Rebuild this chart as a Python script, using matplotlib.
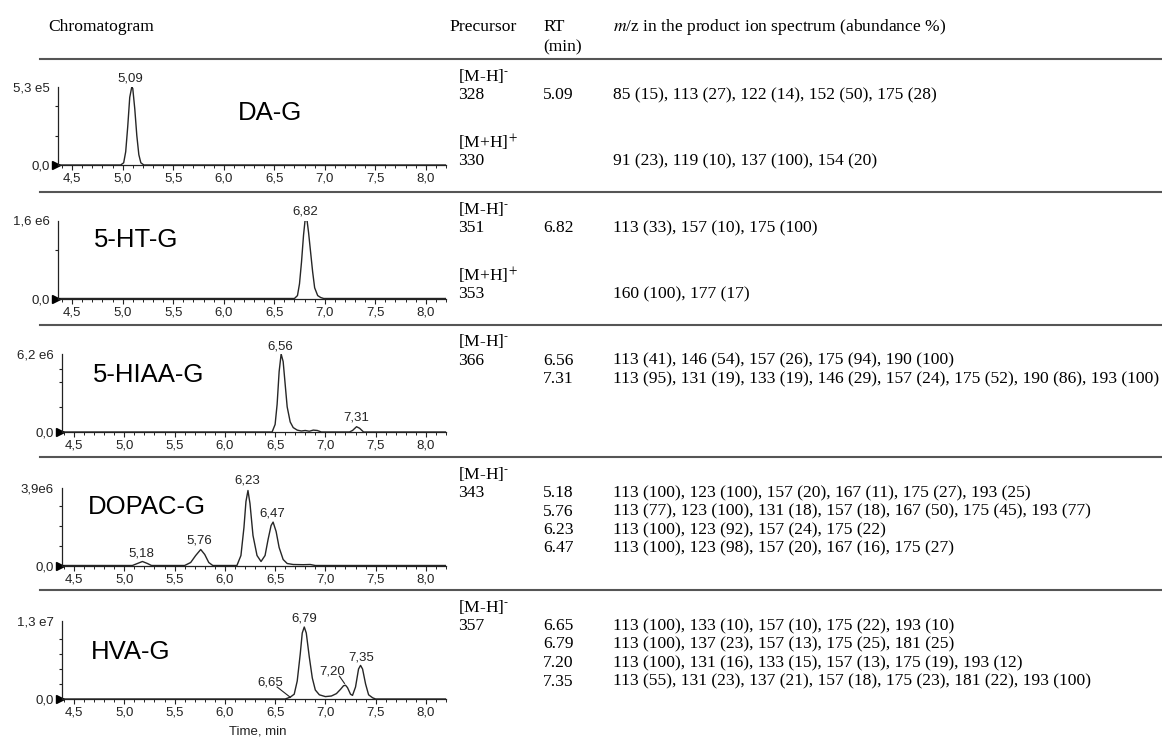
import numpy as np
import matplotlib
matplotlib.use("Agg")
import matplotlib.pyplot as plt
from matplotlib.lines import Line2D
from matplotlib.ticker import MultipleLocator, FixedLocator, FuncFormatter

plt.rcParams['mathtext.fontset'] = 'stix'
SERIF = 'Liberation Serif'
SANS = 'Liberation Sans'
W, H = 1162, 740

# ---- chromatogram traces (time in min, intensity in counts)
dag_t = [4.36, 4.98, 5.01, 5.03, 5.05, 5.07, 5.09, 5.10, 5.12, 5.14, 5.16, 5.18, 5.21, 8.2]
dag_i = np.array([0, 0, 0.15, 0.9, 2.6, 4.6, 5.3, 5.2, 3.8, 2.0, 0.7, 0.15, 0, 0]) * 1e5

ht_t = [4.36, 6.70, 6.73, 6.75, 6.77, 6.79, 6.805, 6.825, 6.84, 6.86, 6.88, 6.90, 6.93, 6.96, 6.99, 8.2]
ht_i = np.array([0, 0, 0.06, 0.3, 0.75, 1.3, 1.6, 1.6, 1.35, 0.95, 0.55, 0.22, 0.06, 0.02, 0, 0]) * 1e6

hiaa_t = [4.38, 6.47, 6.50, 6.52, 6.54, 6.56, 6.58, 6.60, 6.62, 6.65, 6.68, 6.72, 6.76, 6.80, 6.84,
          6.88, 6.92, 6.96, 7.24, 7.27, 7.31, 7.34, 7.38, 8.2]
hiaa_i = np.array([0, 0, 0.6, 2.2, 4.8, 6.2, 5.6, 3.8, 2.0, 0.8, 0.35, 0.15, 0.08, 0.12, 0.06,
                   0.15, 0.12, 0, 0, 0.12, 0.42, 0.3, 0, 0]) * 1e6

dopac_t = [4.38, 5.08, 5.13, 5.18, 5.23, 5.27, 5.60, 5.66, 5.71, 5.76, 5.80, 5.84, 5.88, 6.12, 6.16,
           6.19, 6.21, 6.23, 6.25, 6.28, 6.32, 6.36, 6.40, 6.43, 6.46, 6.48, 6.51, 6.54, 6.58, 6.62,
           6.68, 6.78, 6.85, 6.90, 8.2]
dopac_i = np.array([0, 0, 0.1, 0.2, 0.1, 0, 0, 0.15, 0.5, 0.8, 0.55, 0.15, 0, 0, 0.5,
                    1.9, 3.2, 3.75, 3.1, 1.5, 0.5, 0.2, 0.5, 1.3, 2.0, 2.17, 1.7, 0.9, 0.3, 0.1,
                    0.05, 0.04, 0.05, 0, 0]) * 1e6

hva_t = [4.38, 6.60, 6.65, 6.69, 6.72, 6.75, 6.77, 6.79, 6.81, 6.84, 6.87, 6.90, 6.94, 7.00, 7.06,
         7.11, 7.15, 7.18, 7.20, 7.22, 7.25, 7.27, 7.30, 7.33, 7.35, 7.37, 7.40, 7.43, 7.47, 7.50, 8.2]
hva_i = np.array([0, 0, 0.03, 0.08, 0.3, 0.75, 1.1, 1.2, 1.1, 0.7, 0.35, 0.15, 0.07, 0.04, 0.05,
                  0.09, 0.16, 0.22, 0.23, 0.19, 0.08, 0.06, 0.2, 0.5, 0.56, 0.5, 0.25, 0.07, 0.02, 0, 0]) * 1e7

# y scale maxima and their labels
names = ["DA-G", "5-HT-G", "5-HIAA-G", "DOPAC-G", "HVA-G"]
ymax = [5.3e5, 1.6e6, 6.2e6, 3.9e6, 1.3e7]
ymax_labels = ["5,3 e5", "1,6 e6", "6,2 e6", "3,9e6", "1,3 e7"]
yminor = [[2e5, 4e5], [1e6], [2e6, 4e6, 5e6], [1e6, 2e6, 3e6], [2.5e6, 5e6, 7.5e6, 1e7]]

# peak labels: (text, time, height)
peak_labels = [
    [("5,09", 5.08, 5.5e5)],
    [("6,82", 6.81, 1.66e6)],
    [("6,56", 6.555, 6.35e6), ("7,31", 7.31, 0.7e6)],
    [("5,18", 5.17, 0.3e6), ("5,76", 5.75, 0.95e6), ("6,23", 6.225, 3.95e6), ("6,47", 6.475, 2.3e6)],
    [("6,79", 6.79, 1.24e7), ("7,35", 7.36, 0.6e7)],
]
# labels with leader lines (HVA-G): text, text x, text y, line from, line to
leader_labels = [("6,65", 6.45, 0.27e7, (6.52, 0.2e7), (6.65, 0.03e7)),
                 ("7,20", 7.07, 0.46e7, (7.14, 0.38e7), (7.19, 0.26e7))]

# ---- table content
header = ["Chromatogram", "Precursor", "RT", "(min)", r"$m$/z in the product ion spectrum (abundance %)"]
MH = r"[M-H]$^{\text{-}}$"
MHP = r"[M+H]$^{+}$"
precursors = [
    [(MH, "328"), (MHP, "330")],
    [(MH, "351"), (MHP, "353")],
    [(MH, "366")],
    [(MH, "343")],
    [(MH, "357")],
]
rts = [["5.09"], ["6.82"], ["6.56", "7.31"], ["5.18", "5.76", "6.23", "6.47"],
       ["6.65", "6.79", "7.20", "7.35"]]
ions = [
    ["85 (15), 113 (27), 122 (14), 152 (50), 175 (28)",
     "91 (23), 119 (10), 137 (100), 154 (20)"],
    ["113 (33), 157 (10), 175 (100)",
     "160 (100), 177 (17)"],
    ["113 (41), 146 (54), 157 (26), 175 (94), 190 (100)",
     "113 (95), 131 (19), 133 (19), 146 (29), 157 (24), 175 (52), 190 (86), 193 (100)"],
    ["113 (100), 123 (100), 157 (20), 167 (11), 175 (27), 193 (25)",
     "113 (77), 123 (100), 131 (18), 157 (18), 167 (50), 175 (45), 193 (77)",
     "113 (100), 123 (92), 157 (24), 175 (22)",
     "113 (100), 123 (98), 157 (20), 167 (16), 175 (27)"],
    ["113 (100), 133 (10), 157 (10), 175 (22), 193 (10)",
     "113 (100), 137 (23), 157 (13), 175 (25), 181 (25)",
     "113 (100), 131 (16), 133 (15), 157 (13), 175 (19), 193 (12)",
     "113 (55), 131 (23), 137 (21), 157 (18), 175 (23), 181 (22), 193 (100)"],
]
traces = [(dag_t, dag_i), (ht_t, ht_i), (hiaa_t, hiaa_i), (dopac_t, dopac_i), (hva_t, hva_i)]

fig = plt.figure(figsize=(W / 100, H / 100), dpi=100)


def fx(px):
    return px / W


def fy(py):
    return 1 - py / H


TS = 12.6  # table font size
name_pos = [(270, 113), (136, 240), (149, 375), (147, 507), (131, 652)]
row_lines = [59, 192, 324.5, 457, 590]

for i in range(5):
    left = 58 if i < 2 else 62
    x0 = 4.36 if i < 2 else 4.38
    x1 = 8.2
    base = 165 + 133.5 * i
    hgt = 78
    ax = fig.add_axes([fx(left), fy(base), fx(446 - left), hgt / H])
    t, y = traces[i]
    ax.plot(t, y, color='#262626', lw=1.0)
    ax.set_xlim(x0, x1)
    ax.set_ylim(0, ymax[i])
    for s in ['top', 'right']:
        ax.spines[s].set_visible(False)
    for s in ['left', 'bottom']:
        ax.spines[s].set_color('#222')
        ax.spines[s].set_linewidth(0.9)
    ax.xaxis.set_major_locator(MultipleLocator(0.5))
    ax.xaxis.set_minor_locator(MultipleLocator(0.1))
    ax.xaxis.set_major_formatter(FuncFormatter(lambda v, p: f"{v:.1f}".replace('.', ',')))
    ax.tick_params(axis='x', which='major', direction='out', length=3.5, width=0.8,
                   labelsize=9.5, pad=2, colors='#222')
    ax.tick_params(axis='x', which='minor', direction='out', length=1.8, width=0.7, colors='#222')
    ax.set_yticks([0, ymax[i]], ["0,0", ymax_labels[i]])
    ax.yaxis.set_minor_locator(FixedLocator(yminor[i]))
    ax.tick_params(axis='y', which='major', length=0, pad=6, labelsize=9.5, colors='#222')
    ax.tick_params(axis='y', which='minor', direction='out', length=2.5, width=0.8, colors='#222')
    for lab in ax.get_xticklabels() + ax.get_yticklabels():
        lab.set_family(SANS)
    scale = (446 - left) / (x1 - x0)
    ax.plot([x0 - 2.5 / scale], [0], marker='>', ms=5.5, color='k', clip_on=False)
    for txt, px, py in peak_labels[i]:
        ax.text(px, py, txt, ha='center', va='bottom', fontsize=9.5, family=SANS, color='#222')
    if i == 4:
        for txt, px, py, p0, p1 in leader_labels:
            ax.text(px, py, txt, ha='center', va='center', fontsize=9.5, family=SANS, color='#222')
            ax.plot([p0[0], p1[0]], [p0[1], p1[1]], color='#222', lw=0.8)
    nx, ny = name_pos[i]
    fig.text(fx(nx), fy(ny), names[i], ha='center', va='center', fontsize=18.5, family=SANS)

fig.text(fx(258), fy(731), "Time, min", ha='center', va='center', fontsize=9.5, family=SANS, color='#222')

# ---- table lines and text
for ly in row_lines:
    fig.add_artist(Line2D([fx(40), 1.0], [fy(ly), fy(ly)], color='#555', lw=1.5))

fig.text(fx(48), fy(27), header[0], ha='left', va='center', fontsize=TS, family=SERIF)
fig.text(fx(449), fy(27), header[1], ha='left', va='center', fontsize=TS, family=SERIF)
fig.text(fx(543), fy(27), header[2], ha='left', va='center', fontsize=TS, family=SERIF)
fig.text(fx(543), fy(47), header[3], ha='left', va='center', fontsize=TS, family=SERIF)
fig.text(fx(613), fy(27), header[4], ha='left', va='center', fontsize=TS, family=SERIF)

for r in range(5):
    top = row_lines[r]
    prec = precursors[r]
    fig.text(fx(458), fy(top + 17), prec[0][0], ha='left', va='center', fontsize=TS, family=SERIF)
    fig.text(fx(458), fy(top + 36), prec[0][1], ha='left', va='center', fontsize=TS, family=SERIF)
    if len(prec) > 1:
        # second precursor ([M+H]+) with its own ion line
        fig.text(fx(458), fy(top + 84), prec[1][0], ha='left', va='center', fontsize=TS, family=SERIF)
        fig.text(fx(458), fy(top + 102), prec[1][1], ha='left', va='center', fontsize=TS, family=SERIF)
        fig.text(fx(543), fy(top + 36), rts[r][0], ha='left', va='center', fontsize=TS, family=SERIF)
        fig.text(fx(613), fy(top + 36), ions[r][0], ha='left', va='center', fontsize=TS, family=SERIF)
        fig.text(fx(613), fy(top + 102), ions[r][1], ha='left', va='center', fontsize=TS, family=SERIF)
    else:
        for k, (rt, ion) in enumerate(zip(rts[r], ions[r])):
            yy = top + 36 + 18.5 * k
            fig.text(fx(543), fy(yy), rt, ha='left', va='center', fontsize=TS, family=SERIF)
            fig.text(fx(613), fy(yy), ion, ha='left', va='center', fontsize=TS, family=SERIF)

fig.savefig("out.png", dpi=100)
